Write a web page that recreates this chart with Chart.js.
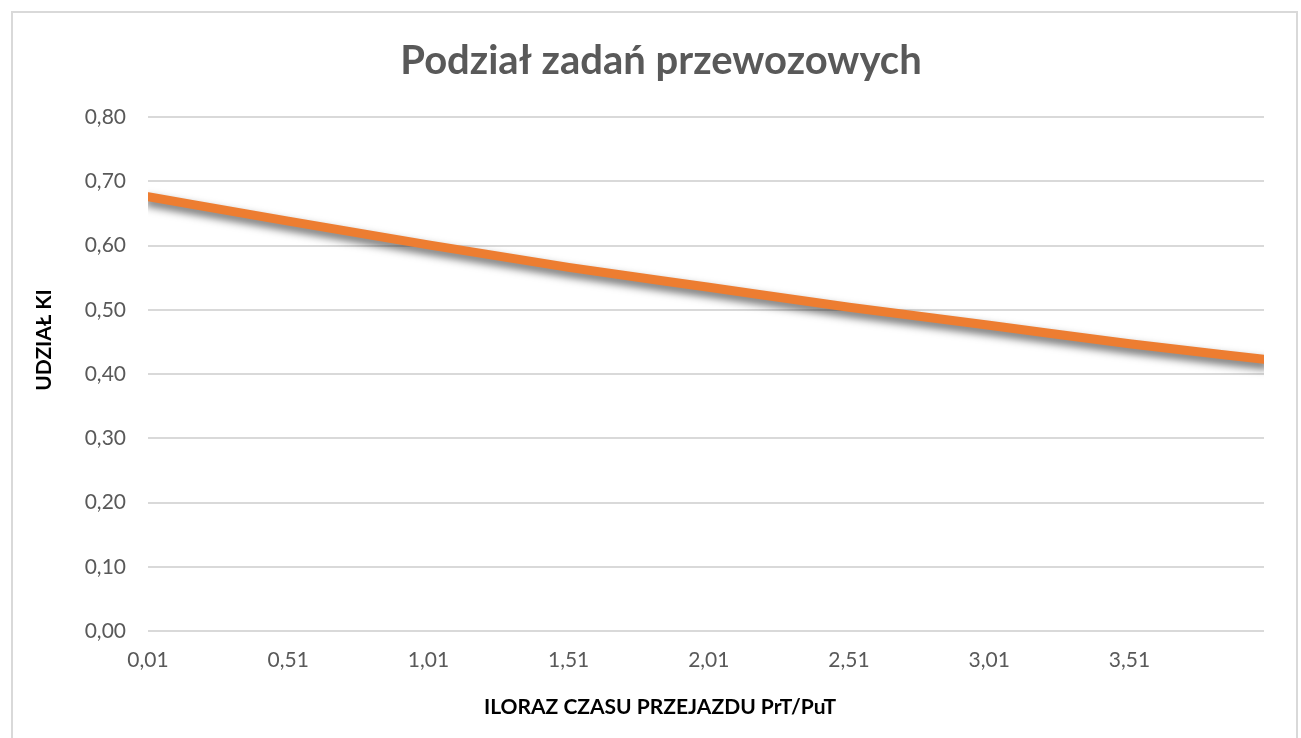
<!DOCTYPE html>
<html>
<head>
<meta charset="utf-8">
<script src="https://cdn.jsdelivr.net/npm/chart.js@4/dist/chart.umd.min.js"></script>
<style>
  html, body { margin: 0; padding: 0; background: #ffffff; }
  #wrap { width: 1301px; height: 738px; position: relative; }
</style>
</head>
<body>
<div id="wrap"><canvas id="c" width="1301" height="738"></canvas></div>
<script>
// Data
const ratioValues = [0.01, 0.51, 1.01, 1.51, 2.01, 2.51, 3.01, 3.51, 3.99];
const shareValues = [0.676, 0.638, 0.601, 0.566, 0.535, 0.504, 0.476, 0.447, 0.423];
const xTickValues = [0.01, 0.51, 1.01, 1.51, 2.01, 2.51, 3.01, 3.51];
const yTickValues = [0, 0.1, 0.2, 0.3, 0.4, 0.5, 0.6, 0.7, 0.8];
const chartTitle = 'Podział zadań przewozowych';
const xTitle = 'ILORAZ CZASU PRZEJAZDU PrT/PuT';
const yTitle = 'UDZIAŁ KI';

const fmt = v => Number(v).toFixed(2).replace('.', ',');

function shiftTitle(scale, dx, dy) {
  if (scale._titleShifted) return;
  const orig = scale.drawTitle;
  scale.drawTitle = function () {
    const ctx = this.ctx;
    ctx.save();
    ctx.translate(dx, dy);
    orig.apply(this, arguments);
    ctx.restore();
  };
  scale._titleShifted = true;
}

const borderPlugin = {
  id: 'chartBorder',
  beforeDraw(chart) {
    const ctx = chart.ctx;
    ctx.save();
    ctx.fillStyle = '#ffffff';
    ctx.fillRect(0, 0, chart.width, chart.height);
    ctx.strokeStyle = '#d9d9d9';
    ctx.lineWidth = 2;
    ctx.strokeRect(12, 12, 1285, 740);
    ctx.restore();
  }
};

const shadowPlugin = {
  id: 'lineShadow',
  beforeDatasetsDraw(chart) {
    const ctx = chart.ctx;
    ctx.save();
    ctx.shadowColor = 'rgba(0,0,0,0.6)';
    ctx.shadowBlur = 9;
    ctx.shadowOffsetX = 1;
    ctx.shadowOffsetY = 5;
  },
  afterDatasetsDraw(chart) {
    chart.ctx.restore();
  }
};

const points = ratioValues.map((x, i) => ({ x: x, y: shareValues[i] }));

new Chart(document.getElementById('c'), {
  type: 'line',
  data: {
    datasets: [{
      label: 'Udział KI',
      data: points,
      borderColor: '#ED7D31',
      backgroundColor: '#ED7D31',
      borderWidth: 9,
      borderCapStyle: 'round',
      borderJoinStyle: 'round',
      pointRadius: 0,
      cubicInterpolationMode: 'monotone',
      fill: false
    }]
  },
  options: {
    responsive: false,
    animation: false,
    devicePixelRatio: 1,
    layout: { padding: { left: 58, right: 37, top: 0, bottom: 8 } },
    plugins: {
      legend: { display: false },
      tooltip: { enabled: false },
      title: {
        display: true,
        text: chartTitle,
        color: '#595959',
        font: { family: 'Lato', size: 40, weight: 'bold' },
        padding: { top: 37, bottom: 32 }
      }
    },
    scales: {
      x: {
        type: 'linear',
        min: 0.01,
        max: 3.99,
        afterBuildTicks(scale) {
          scale.ticks = xTickValues.map(v => ({ value: v }));
        },
        afterFit(scale) { scale.height = 99; },
        afterUpdate(scale) { shiftTitle(scale, -46, 0); },
        ticks: {
          color: '#595959',
          font: { family: 'Lato', size: 21 },
          padding: 17,
          maxRotation: 0,
          autoSkip: false,
          callback: v => fmt(v)
        },
        grid: { display: false, drawTicks: false },
        border: { display: false },
        title: {
          display: true,
          text: xTitle,
          color: '#000000',
          font: { family: 'Lato', size: 21, weight: 'bold' },
          padding: { top: 20, bottom: 10 }
        }
      },
      y: {
        type: 'linear',
        min: 0,
        max: 0.8,
        afterBuildTicks(scale) {
          scale.ticks = yTickValues.map(v => ({ value: v }));
        },
        afterFit(scale) { scale.width = 90; },
        afterUpdate(scale) { shiftTitle(scale, 0, -34); },
        ticks: {
          color: '#595959',
          font: { family: 'Lato', size: 21 },
          padding: 22,
          callback: v => fmt(v)
        },
        grid: { color: '#d9d9d9', lineWidth: 2, drawTicks: false },
        border: { display: false },
        title: {
          display: true,
          text: yTitle,
          color: '#000000',
          font: { family: 'Lato', size: 21, weight: 'bold' },
          padding: { top: -26, bottom: 0 }
        }
      }
    }
  },
  plugins: [borderPlugin, shadowPlugin]
});
</script>
</body>
</html>
